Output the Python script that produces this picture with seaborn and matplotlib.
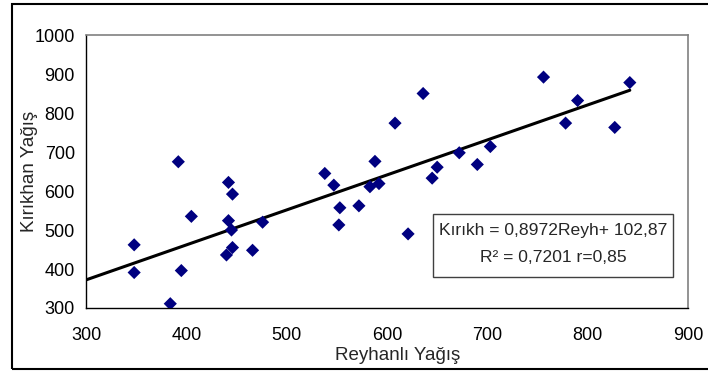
import numpy as np
import pandas as pd
import matplotlib.pyplot as plt
import matplotlib.patches as patches
import seaborn as sns

# Annual rainfall pairs
reyhanli = [392, 442, 446, 405, 442, 445, 476, 348, 446, 440, 466, 348, 395, 384,
            538, 547, 553, 552, 572, 583, 588, 592, 608, 636, 621, 645, 650, 672,
            690, 703, 756, 790, 778, 827, 842]
kirikhan = [675, 622, 592, 535, 524, 500, 520, 462, 455, 436, 448, 391, 396, 311,
            645, 615, 557, 513, 562, 611, 676, 619, 774, 850, 490, 633, 661, 698,
            668, 714, 892, 832, 774, 763, 878]

# Trendline from the chart's equation
slope = 0.8972
intercept = 102.87

x_ticks = [300, 400, 500, 600, 700, 800, 900]
y_ticks = [300, 400, 500, 600, 700, 800, 900, 1000]

df = pd.DataFrame({'Reyhanli': reyhanli, 'Kirikhan': kirikhan})

sns.set_style('white')
plt.rcParams['font.family'] = ['Liberation Sans', 'DejaVu Sans']
plt.rcParams['font.size'] = 13

fig = plt.figure(figsize=(7.08, 3.71), dpi=100)
ax = fig.add_axes([86 / 708, 63 / 371, 602 / 708, 273 / 371])

sns.scatterplot(data=df, x='Reyhanli', y='Kirikhan', marker='D', s=45,
                color='#000080', edgecolor='none', ax=ax, zorder=3)

line_x = np.array([x_ticks[0], max(reyhanli)])
ax.plot(line_x, slope * line_x + intercept, color='black', lw=2.2, zorder=2)

ax.set_xlim(300, 900)
ax.set_ylim(300, 1000)
ax.set_xticks(x_ticks)
ax.set_yticks(y_ticks)
ax.tick_params(axis='both', direction='out', length=5, width=0.8, color='black',
               labelsize=13, labelcolor='black')
ax.tick_params(axis='x', pad=9)
ax.tick_params(axis='y', pad=3)

for side in ['left', 'bottom']:
    ax.spines[side].set_color('black')
    ax.spines[side].set_linewidth(1)
for side in ['top', 'right']:
    ax.spines[side].set_color('#808080')
    ax.spines[side].set_linewidth(1.2)

ax.set_xlabel('Reyhanlı Yağış', fontsize=13.5)
ax.set_ylabel('Kırıkhan Yağış', fontsize=13.5)
ax.xaxis.set_label_coords(0.517, -0.142)
ax.yaxis.set_label_coords(-0.08, 0.5)

# Equation box
ax.add_patch(patches.Rectangle((0.5764, 0.1136), 0.3986, 0.2307, transform=ax.transAxes,
                               facecolor='white', edgecolor='#404040', lw=1, zorder=4))
ax.text(0.7757, 0.283, 'Kırıkh = 0,8972Reyh+ 102,87', transform=ax.transAxes,
        ha='center', va='center', fontsize=12.6, zorder=5)
ax.text(0.7757, 0.186, 'R² = 0,7201 r=0,85', transform=ax.transAxes,
        ha='center', va='center', fontsize=12.6, zorder=5)

# Outer chart frame
fig.add_artist(patches.Rectangle((12 / 708, 2 / 371), 1.0, 365 / 371, transform=fig.transFigure,
                                 fill=False, edgecolor='black', lw=1.5))

fig.savefig('out.png', dpi=100)
